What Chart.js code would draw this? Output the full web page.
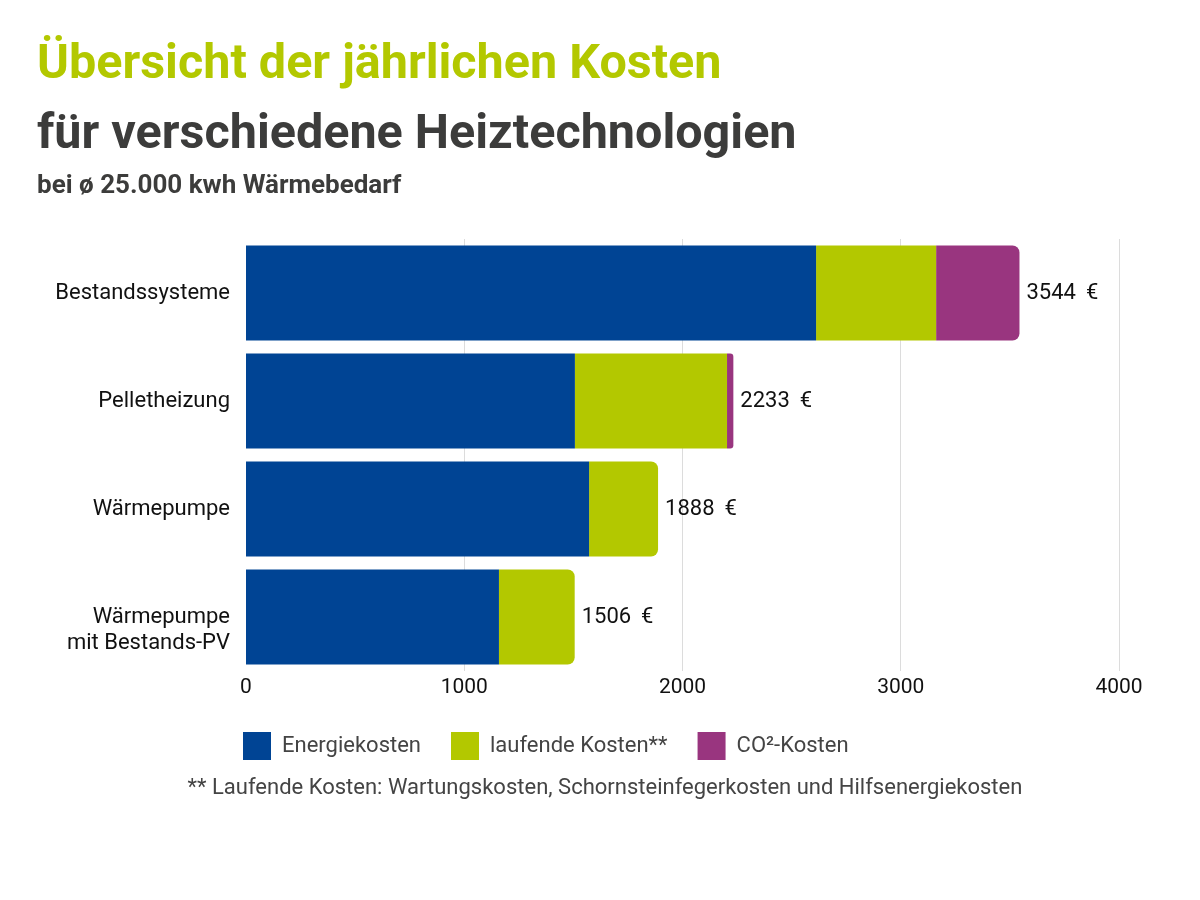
<!DOCTYPE html>
<html lang="de">
<head>
<meta charset="utf-8">
<title>Übersicht der jährlichen Kosten</title>
<script src="https://cdn.jsdelivr.net/npm/chart.js@4"></script>
<style>
  body { margin: 0; background: #fff; font-family: Roboto, "Noto Sans", sans-serif; }
  #wrap { position: relative; width: 1200px; height: 900px; overflow: hidden; }
  #grafico { position: absolute; left: 0; top: 0; }
  .txt { position: absolute; left: 37px; white-space: nowrap; font-weight: 700; }
  #t1 { top: 33px; font-size: 48.5px; color: #b3c800; }
  #t2 { top: 103px; font-size: 48.5px; color: #3c3c3b; }
  #t3 { top: 169px; font-size: 26px; color: #3c3c3b; }
  #fuss { position: absolute; left: 0; width: 1210px; top: 774px; text-align: center;
          font-size: 22px; color: #444; }
</style>
</head>
<body>
<div id="wrap">
  <canvas id="grafico" width="1200" height="900"></canvas>
  <div class="txt" id="t1">Übersicht der jährlichen Kosten</div>
  <div class="txt" id="t2">für verschiedene Heiztechnologien</div>
  <div class="txt" id="t3">bei ø 25.000 kwh Wärmebedarf</div>
  <div id="fuss">** Laufende Kosten: Wartungskosten, Schornsteinfegerkosten und Hilfsenergiekosten</div>
</div>
<script>
const kategorien = ['Bestandssysteme', 'Pelletheizung', 'Wärmepumpe', ['Wärmepumpe', 'mit Bestands-PV']];
const energiekosten = [2612, 1507, 1572, 1159];
const laufendeKosten = [550, 697, 316, 347];
const co2Kosten = [382, 29, 0, 0];
const xTicks = [0, 1000, 2000, 3000, 4000];

const reihen = [energiekosten, laufendeKosten, co2Kosten];

// runde Ecken nur am letzten sichtbaren Segment
function eckenRadius(c) {
    const i = c.dataIndex;
    for (let d = c.datasetIndex + 1; d < reihen.length; d++) {
        if (reihen[d][i] > 0) return 0;
    }
    return 7;
}

const summenPlugin = {
    id: 'summen',
    afterLayout(chart) {
        // Legende beginnt unter den Achsenbeschriftungen
        chart.legend.left = 213;
    },
    afterDatasetsDraw(chart) {
        const ctx = chart.ctx;
        const x = chart.scales.x;
        const y = chart.scales.y;
        ctx.save();
        ctx.font = '22px Roboto';
        ctx.fillStyle = '#111';
        ctx.textAlign = 'left';
        ctx.textBaseline = 'middle';
        kategorien.forEach((_, i) => {
            const summe = energiekosten[i] + laufendeKosten[i] + co2Kosten[i];
            ctx.fillText(summe + ' \u2009€', x.getPixelForValue(summe) + 7, y.getPixelForValue(i));
        });
        ctx.restore();
    }
};

const ctx = document.getElementById('grafico').getContext('2d');
const myChart = new Chart(ctx, {
    type: 'bar',
    data: {
        labels: kategorien,
        datasets: [
            { label: 'Energiekosten', data: energiekosten, backgroundColor: '#004494' },
            { label: 'laufende Kosten**', data: laufendeKosten, backgroundColor: '#b3c800' },
            { label: 'CO²-Kosten', data: co2Kosten, backgroundColor: '#99357f' }
        ]
    },
    options: {
        indexAxis: 'y',
        responsive: false,
        animation: false,
        categoryPercentage: 1,
        barPercentage: 0.88,
        datasets: {
            bar: { borderWidth: 0, borderRadius: eckenRadius, borderSkipped: 'start' }
        },
        layout: { padding: { top: 239, left: 0, right: 81, bottom: 130 } },
        scales: {
            x: {
                stacked: true,
                min: 0,
                max: 4000,
                afterBuildTicks: s => { s.ticks = xTicks.map(v => ({ value: v })); },
                afterFit: s => { s.height = 31; },
                grid: { color: '#dcdcdc', drawTicks: false, lineWidth: c => c.tick && c.tick.value === 0 ? 0 : 1 },
                border: { display: false },
                ticks: {
                    padding: 4,
                    color: '#111',
                    font: { family: 'Roboto', size: 21 },
                    callback: v => String(v)
                }
            },
            y: {
                stacked: true,
                afterFit: s => { s.width = 246; },
                grid: { display: false, drawTicks: false },
                border: { display: false },
                ticks: {
                    padding: 16,
                    color: '#111',
                    font: { family: 'Roboto', size: 22 },
                    // erste Zeile mehrzeiliger Beschriftungen auf Balkenmitte
                    callback: (v, i) => {
                        const l = kategorien[i];
                        return Array.isArray(l) ? [''].concat(l) : l;
                    }
                }
            }
        },
        plugins: {
            legend: {
                position: 'bottom',
                align: 'start',
                labels: {
                    boxWidth: 28,
                    boxHeight: 28,
                    padding: 30,
                    color: '#444',
                    font: { family: 'Roboto', size: 22 }
                }
            },
            tooltip: { enabled: false }
        }
    },
    plugins: [summenPlugin]
});
</script>
</body>
</html>
